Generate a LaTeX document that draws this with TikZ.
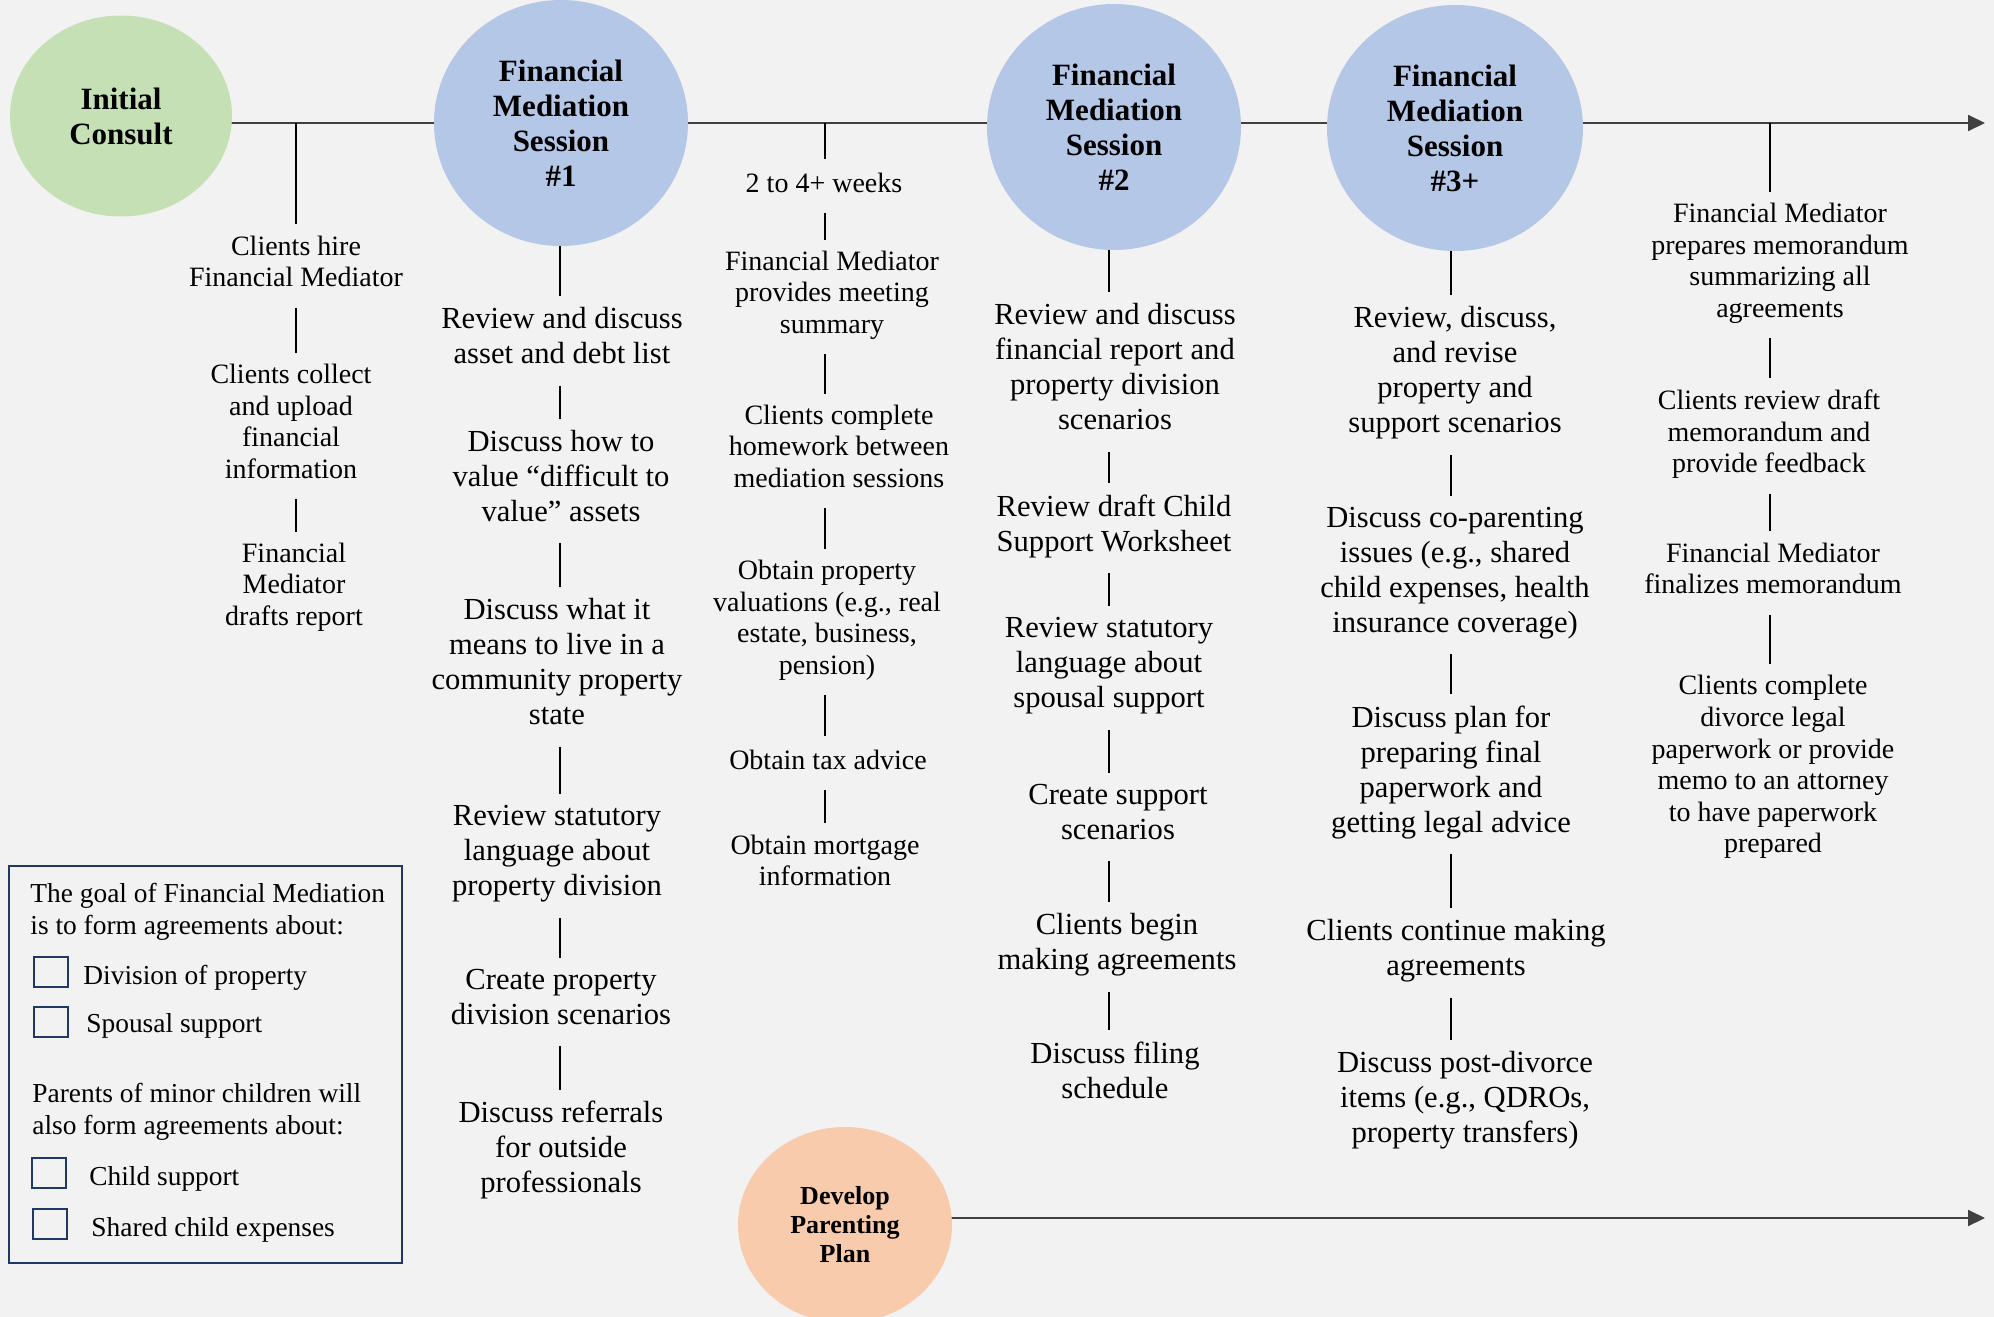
\documentclass[tikz,border=0pt]{standalone}
\usepackage{fontspec}
\setmainfont{Liberation Serif}
\usepackage{xcolor}
\usepackage{tikz}
\usetikzlibrary{calc}
\usetikzlibrary{shapes.geometric}
\usetikzlibrary{arrows.meta}
\definecolor{bgGray}{HTML}{F2F2F2}
\definecolor{consultGreen}{HTML}{C5E0B4}
\definecolor{sessionBlue}{HTML}{B4C7E7}
\definecolor{planOrange}{HTML}{F8CBAD}
\definecolor{boxNavy}{HTML}{203864}
\definecolor{lineGray}{HTML}{404040}
\newcommand{\LineY}{123}
\newcommand{\PlanY}{1218}
\newcommand{\EndX}{1985}

\begin{document}
\begin{tikzpicture}[x=0.5pt,y=-0.5pt,
  mainline/.style={lineGray,line width=1pt,-{Triangle[length=8.5pt,width=8pt]}},
  tick/.style={black,line width=0.6pt},
  bubble/.style={ellipse,inner sep=0pt,align=center,font=\bfseries\fontsize{15.5}{17.5}\selectfont},
  stepsmall/.style={align=center,inner sep=5.5pt,yshift=-2.5pt,font=\fontsize{14}{15.8}\selectfont,
    execute at begin node=\strut,execute at end node=\strut},
  stepbig/.style={stepsmall,font=\fontsize{15.3}{17.5}\selectfont},
  legendtext/.style={anchor=west,align=left,inner sep=0pt,yshift=-1.5pt,font=\fontsize{13.7}{16}\selectfont},
  chkbox/.style={draw=boxNavy,line width=1pt,minimum width=17pt,minimum height=15pt,inner sep=0pt}
]
\useasboundingbox (0,0) rectangle (1994,1317);
\fill[bgGray] (0,0) rectangle (1994,1317);

\coordinate (TopStart) at (121,\LineY);
\coordinate (TopEnd) at (\EndX,\LineY);
\coordinate (PlanStart) at (845,\PlanY);
\coordinate (PlanEnd) at (\EndX,\PlanY);
\coordinate (C1) at (296,\LineY);
\coordinate (C2) at (560,\LineY);
\coordinate (C3) at (825,\LineY);
\coordinate (C4) at (1109,\LineY);
\coordinate (C5) at (1451,\LineY);
\coordinate (C6) at (1770,\LineY);

\draw[mainline] (TopStart) -- (TopEnd);% top timeline
\draw[mainline] (PlanStart) -- (PlanEnd);% parenting timeline

\node[bubble,fill=consultGreen,minimum width=111pt,minimum height=100.5pt] (consult) at (121,116) {Initial\\Consult};
\node[bubble,fill=sessionBlue,minimum width=127pt,minimum height=123pt] (S1) at (561,123) {Financial\\Mediation\\Session\\\#1};
\node[bubble,fill=sessionBlue,minimum width=127pt,minimum height=123pt] (S2) at (1114,127) {Financial\\Mediation\\Session\\\#2};
\node[bubble,fill=sessionBlue,minimum width=128pt,minimum height=123pt] (S3) at (1455,128) {Financial\\Mediation\\Session\\\#3+};
\node[bubble,fill=planOrange,minimum width=107pt,minimum height=98pt,font=\bfseries\fontsize{13}{14.5}\selectfont] (plan) at (845,1225) {Develop\\Parenting\\Plan};

% after the initial consult
\node[stepsmall] (hire) at (296,261) {Clients hire\\Financial Mediator};
\node[stepsmall] (collect) at (291,421) {Clients collect\\and upload\\financial\\information};
\node[stepsmall] (drafts) at (294,584) {Financial\\Mediator\\drafts report};

% session 1
\node[stepbig] (r1) at (562,336) {Review and discuss\\asset and debt list};
\node[stepbig] (r2) at (561,476) {Discuss how to\\value “difficult to\\value” assets};
\node[stepbig] (r3) at (557,662) {Discuss what it\\means to live in a\\community property\\state};
\node[stepbig] (r4) at (557,851) {Review statutory\\language about\\property division};
\node[stepbig] (r5) at (561,997) {Create property\\division scenarios};
\node[stepbig] (r6) at (561,1147) {Discuss referrals\\for outside\\professionals};

% between sessions
\node[stepsmall] (w1) at (824,181) {2 to 4+ weeks};
\node[stepsmall] (w2) at (832,292) {Financial Mediator\\provides meeting\\summary};
\node[stepsmall] (w3) at (839,446) {Clients complete\\homework between\\mediation sessions};
\node[stepsmall] (w4) at (827,617) {Obtain property\\valuations (e.g., real\\estate, business,\\pension)};
\node[stepsmall] (w5) at (828,758) {Obtain tax advice};
\node[stepsmall] (w6) at (825,860) {Obtain mortgage\\information};

% session 2
\node[stepbig] (t1) at (1115,367) {Review and discuss\\financial report and\\property division\\scenarios};
\node[stepbig] (t2) at (1114,523) {Review draft Child\\Support Worksheet};
\node[stepbig] (t3) at (1109,663) {Review statutory\\language about\\spousal support};
\node[stepbig] (t4) at (1118,812) {Create support\\scenarios};
\node[stepbig] (t5) at (1117,942) {Clients begin\\making agreements};
\node[stepbig] (t6) at (1115,1070) {Discuss filing\\schedule};

% session 3+
\node[stepbig] (u1) at (1455,370) {Review, discuss,\\and revise\\property and\\support scenarios};
\node[stepbig] (u2) at (1455,570) {Discuss co-parenting\\issues (e.g., shared\\child expenses, health\\insurance coverage)};
\node[stepbig] (u3) at (1451,769) {Discuss plan for\\preparing final\\paperwork and\\getting legal advice};
\node[stepbig] (u4) at (1456,948) {Clients continue making\\agreements};
\node[stepbig] (u5) at (1465,1097) {Discuss post-divorce\\items (e.g., QDROs,\\property transfers)};

% wrap up
\node[stepsmall] (v1) at (1780,260) {Financial Mediator\\prepares memorandum\\summarizing all\\agreements};
\node[stepsmall] (v2) at (1769,431) {Clients review draft\\memorandum and\\provide feedback};
\node[stepsmall] (v3) at (1773,568) {Financial Mediator\\finalizes memorandum};
\node[stepsmall] (v4) at (1773,764) {Clients complete\\divorce legal\\paperwork or provide\\memo to an attorney\\to have paperwork\\prepared};

% ticks
\draw[tick] (C1) -- (hire.north -| C1);
\draw[tick] (C3) -- (w1.north -| C3);
\draw[tick] (C6) -- (v1.north -| C6);
\draw[tick] (S1.south -| C2) -- (r1.north -| C2);
\draw[tick] (S2.south -| C4) -- (t1.north -| C4);
\draw[tick] (S3.south -| C5) -- (u1.north -| C5);
\foreach \a/\b in {hire/collect,collect/drafts}
  \draw[tick] (\a.south -| C1) -- (\b.north -| C1);
\foreach \a/\b in {r1/r2,r2/r3,r3/r4,r4/r5,r5/r6}
  \draw[tick] (\a.south -| C2) -- (\b.north -| C2);
\foreach \a/\b in {w1/w2,w2/w3,w3/w4,w4/w5,w5/w6}
  \draw[tick] (\a.south -| C3) -- (\b.north -| C3);
\foreach \a/\b in {t1/t2,t2/t3,t3/t4,t4/t5,t5/t6}
  \draw[tick] (\a.south -| C4) -- (\b.north -| C4);
\foreach \a/\b in {u1/u2,u2/u3,u3/u4,u4/u5}
  \draw[tick] (\a.south -| C5) -- (\b.north -| C5);
\foreach \a/\b in {v1/v2,v2/v3,v3/v4}
  \draw[tick] (\a.south -| C6) -- (\b.north -| C6);

% legend
\node[draw=boxNavy,line width=1.2pt,minimum width=196.5pt,minimum height=198.5pt,inner sep=0pt] (legend) at (205.5,1064.5) {};
\node[legendtext] (goal) at (30,909) {The goal of Financial Mediation\\is to form agreements about:};
\node[chkbox] (box1) at (51,972) {};
\node[legendtext] (item1) at (83,975) {Division of property};
\node[chkbox] (box2) at (51,1022) {};
\node[legendtext] (item2) at (86,1023) {Spousal support};
\node[legendtext] (parents) at (32,1109) {Parents of minor children will\\also form agreements about:};
\node[chkbox] (box3) at (49,1173) {};
\node[legendtext] (item3) at (89,1176) {Child support};
\node[chkbox] (box4) at (50,1224) {};
\node[legendtext] (item4) at (91,1227) {Shared child expenses};
\end{tikzpicture}
\end{document}
